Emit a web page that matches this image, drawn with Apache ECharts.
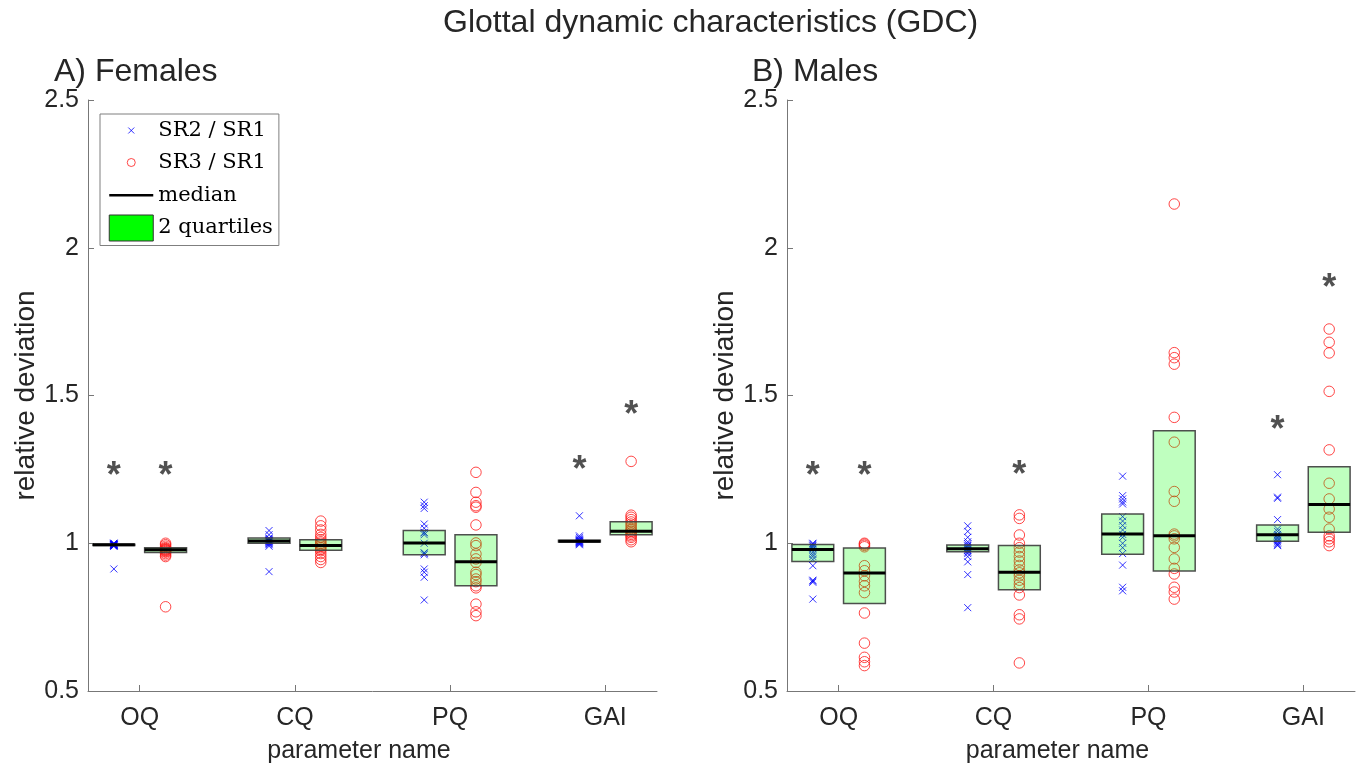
<!DOCTYPE html>
<html>
<head>
<meta charset="utf-8">
<script src="https://cdn.jsdelivr.net/npm/echarts@6/dist/echarts.min.js"></script>
<style>html,body{margin:0;padding:0;background:#fff}#chart{width:1359px;height:769px}</style>
</head>
<body>
<div id="chart"></div>
<script>
// ---- data ----
const categories = ['OQ', 'CQ', 'PQ', 'GAI'];
const yTicks = [0.5, 1, 1.5, 2, 2.5];

// Females (panel A): one list of values per category
const femaleSR2 = [
  [1.0, 1.0, 0.998, 0.997, 0.996, 0.996, 0.995, 0.995, 0.994, 0.993, 0.993, 0.992, 0.99, 0.99, 0.913],
  [1.043, 1.029, 1.018, 1.015, 1.012, 1.01, 1.008, 1.007, 1.005, 1.003, 1.0, 0.998, 0.995, 0.99, 0.904],
  [1.139, 1.127, 1.118, 1.065, 1.051, 1.037, 1.035, 1.029, 1.0, 0.968, 0.966, 0.961, 0.913, 0.902, 0.885, 0.808],
  [1.093, 1.025, 1.02, 1.015, 1.012, 1.01, 1.008, 1.007, 1.005, 1.004, 1.002, 1.0, 0.998, 0.995]
];
const femaleSR3 = [
  [1.0, 0.995, 0.99, 0.985, 0.982, 0.98, 0.978, 0.977, 0.975, 0.972, 0.97, 0.965, 0.96, 0.955, 0.785],
  [1.075, 1.059, 1.045, 1.03, 1.02, 1.012, 1.005, 1.0, 0.995, 0.99, 0.985, 0.98, 0.975, 0.965, 0.955, 0.945, 0.935],
  [1.24, 1.172, 1.139, 1.127, 1.122, 1.062, 1.001, 0.992, 0.964, 0.947, 0.935, 0.902, 0.894, 0.879, 0.87, 0.856, 0.849, 0.794, 0.768, 0.755],
  [1.277, 1.095, 1.088, 1.08, 1.072, 1.065, 1.058, 1.05, 1.045, 1.04, 1.035, 1.03, 1.025, 1.02, 1.012, 1.005]
];
// quartile boxes and medians per category
const femaleSR2Q1 = [0.992, 1.0, 0.961, 1.004];
const femaleSR2Med = [0.995, 1.008, 1.001, 1.007];
const femaleSR2Q3 = [0.997, 1.018, 1.043, 1.01];
const femaleSR3Q1 = [0.969, 0.976, 0.856, 1.029];
const femaleSR3Med = [0.978, 0.992, 0.937, 1.041];
const femaleSR3Q3 = [0.985, 1.012, 1.029, 1.073];
// significance marks: [category index (1-based), side (-1 = SR2, +1 = SR3), y]
const femaleStars = [[1, -1, 1.255], [1, 1, 1.255], [4, -1, 1.276], [4, 1, 1.46]];

// Males (panel B)
const maleSR2 = [
  [1.0, 0.997, 0.993, 0.99, 0.985, 0.98, 0.97, 0.962, 0.955, 0.945, 0.924, 0.875, 0.872, 0.868, 0.811],
  [1.059, 1.04, 1.02, 1.005, 0.998, 0.993, 0.99, 0.985, 0.982, 0.978, 0.975, 0.97, 0.965, 0.955, 0.937, 0.894, 0.782],
  [1.227, 1.161, 1.15, 1.14, 1.133, 1.09, 1.075, 1.06, 1.045, 1.03, 1.02, 1.0, 0.985, 0.965, 0.926, 0.851, 0.839],
  [1.232, 1.156, 1.152, 1.08, 1.048, 1.04, 1.03, 1.025, 1.02, 1.015, 1.01, 1.005, 1.0, 0.995, 0.992]
];
const maleSR3 = [
  [1.0, 0.997, 0.993, 0.988, 0.924, 0.907, 0.89, 0.871, 0.856, 0.833, 0.764, 0.662, 0.614, 0.599, 0.586],
  [1.096, 1.084, 1.028, 1.0, 0.985, 0.97, 0.955, 0.94, 0.925, 0.91, 0.9, 0.89, 0.875, 0.862, 0.85, 0.825, 0.758, 0.744, 0.595],
  [2.148, 1.645, 1.628, 1.606, 1.426, 1.342, 1.175, 1.142, 1.031, 1.025, 1.015, 0.986, 0.947, 0.915, 0.896, 0.851, 0.835, 0.811],
  [1.725, 1.68, 1.644, 1.514, 1.316, 1.203, 1.15, 1.116, 1.088, 1.048, 1.025, 1.015, 1.005, 0.992]
];
const maleSR2Q1 = [0.938, 0.971, 0.963, 1.007];
const maleSR2Med = [0.979, 0.981, 1.031, 1.029];
const maleSR2Q3 = [0.996, 0.994, 1.099, 1.062];
const maleSR3Q1 = [0.796, 0.843, 0.906, 1.037];
const maleSR3Med = [0.899, 0.902, 1.025, 1.131];
const maleSR3Q3 = [0.984, 0.992, 1.381, 1.259];
const maleStars = [[1, -1, 1.255], [1, 1, 1.255], [2, 1, 1.257], [4, -1, 1.409], [4, 1, 1.891]];

// ---- build ----
const OFF = 1 / 6;       // horizontal offset of each ratio within a category
const BW = 0.27;         // box width (axis units)
const FONT = 'Liberation Sans';
const TXT = '#262626';
const AX = '#777777';

function pts(groups, side) {
  const out = [];
  groups.forEach((vals, i) => vals.forEach(v => out.push([i + 1 + side * OFF, v])));
  return out;
}
function boxes(q1, q3, side) { return q1.map((a, i) => [i + 1 + side * OFF, a, q3[i]]); }
function meds(m, side) { return m.map((v, i) => [i + 1 + side * OFF, v]); }
function stars(s) { return s.map(d => [d[0] + d[1] * OFF, d[2]]); }

function renderBox(params, api) {
  const x = api.value(0), a = api.value(1), b = api.value(2);
  const p1 = api.coord([x - BW / 2, b]);
  const p2 = api.coord([x + BW / 2, a]);
  return {
    type: 'rect',
    shape: { x: p1[0], y: p1[1], width: p2[0] - p1[0], height: p2[1] - p1[1] },
    style: { fill: 'rgba(0,255,0,0.25)', stroke: 'rgba(60,60,60,0.9)', lineWidth: 1.5 }
  };
}
function renderMed(params, api) {
  const x = api.value(0), m = api.value(1);
  const p1 = api.coord([x - BW / 2, m]);
  const p2 = api.coord([x + BW / 2, m]);
  return {
    type: 'line',
    shape: { x1: p1[0], y1: p1[1], x2: p2[0], y2: p2[1] },
    style: { stroke: '#000', lineWidth: 3 }
  };
}

const CROSS = 'path://M0,0L10,10M10,0L0,10';

function panelSeries(k, sr2, sr3, q1a, meda, q3a, q1b, medb, q3b, st) {
  return [
    { name: 'SR2 / SR1', type: 'scatter', xAxisIndex: k, yAxisIndex: k, data: pts(sr2, -1),
      symbol: CROSS, symbolSize: 7, itemStyle: { color: 'rgba(0,0,0,0)', borderColor: '#0000ff', borderWidth: 1 }, z: 2 },
    { name: 'SR3 / SR1', type: 'scatter', xAxisIndex: k, yAxisIndex: k, data: pts(sr3, 1),
      symbol: 'circle', symbolSize: 10.5, itemStyle: { color: 'rgba(0,0,0,0)', borderColor: '#ff1a1a', borderWidth: 1 }, z: 2 },
    { name: '2 quartiles', type: 'custom', xAxisIndex: k, yAxisIndex: k, renderItem: renderBox,
      encode: { x: 0, y: [1, 2] }, data: boxes(q1a, q3a, -1).concat(boxes(q1b, q3b, 1)), z: 3 },
    { name: 'median', type: 'custom', xAxisIndex: k, yAxisIndex: k, renderItem: renderMed,
      encode: { x: 0, y: 1 }, data: meds(meda, -1).concat(meds(medb, 1)), z: 4 },
    { name: 'sig', type: 'scatter', xAxisIndex: k, yAxisIndex: k, data: stars(st),
      symbolSize: 1, itemStyle: { color: 'rgba(0,0,0,0)' }, z: 5, silent: true,
      label: { show: true, position: 'inside', formatter: '*', fontFamily: FONT, fontSize: 36, fontWeight: 'bold', color: TXT, offset: [0, 9] } }
  ];
}

function xAxis(k) {
  return {
    type: 'value', gridIndex: k, min: 2 / 3, max: 13 / 3,
    name: 'parameter name', nameLocation: 'middle', nameGap: 48,
    nameTextStyle: { fontFamily: FONT, fontSize: 25, color: TXT, padding: [0, 27, 0, 0] },
    axisLine: { show: true, lineStyle: { color: AX, width: 1 } },
    axisTick: { show: true, inside: true, length: 6, customValues: [1, 2, 3, 4], lineStyle: { color: AX } },
    axisLabel: { customValues: [1, 2, 3, 4], margin: 15, fontFamily: FONT, fontSize: 25, color: TXT,
      formatter: v => categories[Math.round(v) - 1] },
    splitLine: { show: false }
  };
}
function yAxis(k) {
  return {
    type: 'value', gridIndex: k, min: yTicks[0], max: yTicks[yTicks.length - 1], interval: 0.5,
    name: 'relative deviation', nameLocation: 'middle', nameGap: 42,
    nameTextStyle: { fontFamily: FONT, fontSize: 28, color: TXT },
    axisLine: { show: true, lineStyle: { color: AX, width: 1 } },
    axisTick: { show: true, inside: true, length: 6, lineStyle: { color: AX } },
    axisLabel: { margin: 9, fontFamily: FONT, fontSize: 25, color: TXT },
    splitLine: { show: false }
  };
}

const option = {
  backgroundColor: '#fff',
  animation: false,
  title: [
    { text: 'Glottal dynamic characteristics (GDC)', left: 443, top: 7, padding: 0,
      textStyle: { fontFamily: FONT, fontSize: 32, fontWeight: 'normal', color: TXT } },
    { text: 'A) Females', left: 54, top: 56, padding: 0,
      textStyle: { fontFamily: FONT, fontSize: 32, fontWeight: 'normal', color: TXT } },
    { text: 'B) Males', left: 752, top: 56, padding: 0,
      textStyle: { fontFamily: FONT, fontSize: 32, fontWeight: 'normal', color: TXT } }
  ],
  legend: {
    left: 100, top: 114, orient: 'vertical', selectedMode: false,
    itemWidth: 44, itemHeight: 26, itemGap: 5, padding: [3, 6, 4, 8],
    borderColor: '#7f7f7f', borderWidth: 1, backgroundColor: '#fff',
    textStyle: { fontFamily: 'DejaVu Serif', fontSize: 21, color: '#000' },
    data: [
      { name: 'SR2 / SR1', icon: 'path://M0,0M44,26M19,10L25,16M25,10L19,16',
        itemStyle: { color: 'rgba(0,0,0,0)', borderColor: '#0000ff', borderWidth: 1 } },
      { name: 'SR3 / SR1', icon: 'path://M0,0M44,26M26,13A4,4,0,1,1,18,13A4,4,0,1,1,26,13Z',
        itemStyle: { color: 'rgba(0,0,0,0)', borderColor: '#ff1a1a', borderWidth: 1 } },
      { name: 'median', icon: 'path://M0,0M44,26M0,13L44,13',
        itemStyle: { color: 'rgba(0,0,0,0)', borderColor: '#000', borderWidth: 2.5 } },
      { name: '2 quartiles', icon: 'path://M0,0L44,0L44,26L0,26Z',
        itemStyle: { color: '#00ff00', borderColor: '#333', borderWidth: 1 } }
    ]
  },
  grid: [
    { left: 88, top: 100, width: 569, height: 592 },
    { left: 787, top: 100, width: 568, height: 592 }
  ],
  xAxis: [xAxis(0), xAxis(1)],
  yAxis: [yAxis(0), yAxis(1)],
  series: panelSeries(0, femaleSR2, femaleSR3, femaleSR2Q1, femaleSR2Med, femaleSR2Q3, femaleSR3Q1, femaleSR3Med, femaleSR3Q3, femaleStars)
    .concat(panelSeries(1, maleSR2, maleSR3, maleSR2Q1, maleSR2Med, maleSR2Q3, maleSR3Q1, maleSR3Med, maleSR3Q3, maleStars))
};

const chart = echarts.init(document.getElementById('chart'), null, { renderer: 'canvas' });
chart.setOption(option);
</script>
</body>
</html>
